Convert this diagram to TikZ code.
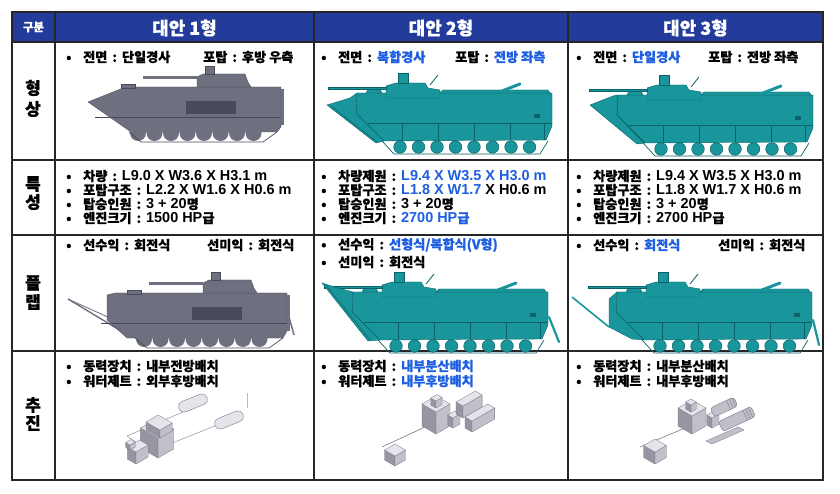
\documentclass[tikz,border=0pt]{standalone}
\usepackage{fontspec}
\setmainfont{Noto Sans CJK KR}[BoldFeatures={FakeBold=0.8}]
\newfontfamily\latf{Liberation Sans}
\usetikzlibrary{calc}
\definecolor{hdr}{RGB}{35,60,155}
\definecolor{bl}{RGB}{30,95,225}
\definecolor{gv}{RGB}{110,112,128}
\definecolor{gd}{RGB}{72,74,90}
\definecolor{ta}{RGB}{24,150,156}
\definecolor{td}{RGB}{10,98,104}
\definecolor{cT}{RGB}{228,228,234}
\definecolor{cL}{RGB}{150,150,162}
\definecolor{cR}{RGB}{192,192,202}
\definecolor{cE}{RGB}{120,120,132}
\newcommand\lat[1]{{\latf\fontsize{14.5}{15}\selectfont #1}}
\newcommand\sepc{\hspace{5pt}:\hspace{5pt}}
\newcommand\bt[1]{\textcolor{bl}{#1}}
\newcommand\bul{\makebox[17bp][l]{•}}
\newcommand\isocube[5]{%
  \filldraw[fill=cL, draw=cE, line width=0.3] (#1,#2) -- ++({-0.87*#3},{-0.5*#3}) -- ++(0,{-#5}) -- ++({0.87*#3},{0.5*#3}) -- cycle;
  \filldraw[fill=cR, draw=cE, line width=0.3] (#1,#2) -- ++({0.87*#4},{-0.5*#4}) -- ++(0,{-#5}) -- ++({-0.87*#4},{0.5*#4}) -- cycle;
  \filldraw[fill=cT, draw=cE, line width=0.3] (#1,{#2-#5}) -- ++({-0.87*#3},{-0.5*#3}) -- ++({0.87*#4},{-0.5*#4}) -- ++({0.87*#3},{0.5*#3}) -- cycle;
}
\newcommand\greyparts{%
  \foreach \i in {0,...,7} \fill[gv] (-143+16.5*\i,46) circle (8);
  \draw[gd, line width=0.7] (-152,45) -- (-140,55) -- (-18,55) -- (-4,45);
  \draw[gd, line width=0.6] (-186,30) -- (0,30);
  \fill[gd] (-95,14) rectangle (-45,27);
  \filldraw[fill=gv, draw=gd, line width=0.3] (-84,0) -- (-84,-10) -- (-78,-13) -- (-36,-13) -- (-33,-5) -- (-30,0) -- cycle;
  \filldraw[fill=gv, draw=gd, line width=0.3] (-76,-13) rectangle (-67,-21);
  \fill[gv] (-138,-10.5) rectangle (-84,-7.5);
  \filldraw[fill=gv, draw=gd, line width=0.3] (-160,1) rectangle (-146,-3);
  \fill[gv] (0,2) rectangle (3,38);
}
\newcommand\tealparts{%
  \draw[td, line width=0.7] (-170,48) -- (-158,61) -- (-12,61) -- (-4,48);
  \filldraw[fill=ta, draw=td, line width=0.4] (-195,0) -- (0,0) -- (0,33) -- (-6,47) -- (-168,48) -- (-196,20) -- cycle;
  \draw[td, line width=0.6] (-184,30) -- (0,30);
  \foreach \x in {-150,-114,-78,-42,-8} \draw[td, line width=0.5] (\x,30) -- (\x,47);
  \foreach \i in {0,...,7} \filldraw[fill=ta, draw=td, line width=0.5] (-152+\i*18.5,54) circle (6.3);
  \filldraw[fill=ta, draw=td, line width=0.4] (-112,0) -- (-109,-3) -- (-4,-3) -- (-2,0) -- cycle;
  \draw[ta, line width=3, line cap=round] (-50,-2) -- (-32,-9);
  \filldraw[fill=ta, draw=td, line width=0.4] (-186,0) -- (-184,-4) -- (-172,-4) -- (-170,0) -- cycle;
  \filldraw[fill=ta, draw=td, line width=0.4] (-166,5) -- (-166,-7) -- (-156,-10) -- (-127,-10) -- (-124,-5) -- (-112,-3) -- (-112,5) -- cycle;
  \filldraw[fill=ta, draw=td, line width=0.4] (-154,-10) rectangle (-144,-20);
  \draw[td, line width=0.8] (-122,-8) -- (-114,-18);
  \filldraw[fill=ta, draw=td, line width=0.3] (-224,-6) rectangle (-166,-3.6);
  \fill[td] (-18,21) rectangle (-12,25);
}
\tikzset{
  ct/.style={anchor=west, inner sep=0pt, font=\fontsize{13.2}{15}\selectfont\bfseries},
  lbl/.style={inner sep=0pt, font=\fontsize{17}{19}\selectfont\bfseries},
  hd/.style={inner sep=0pt, text=white, font=\fontsize{18}{20}\selectfont\bfseries},
  grid/.style={line width=1.5, draw=black!85},
}
\begin{document}
\begin{tikzpicture}[x=1bp,y=-1bp]
\useasboundingbox[fill=white] (0,0) rectangle (840,494);
% header
\fill[hdr] (12,12) rectangle (823,42);
% grid
\foreach \x in {55,314,568} \draw[grid] (\x,12) -- (\x,480);
\foreach \y in {42,160,235,351} \draw[grid] (12,\y) -- (823,\y);
\draw[line width=2, draw=black!85] (12,12) rectangle (823,480);
% header texts
\node[hd, font=\fontsize{11.5}{12}\selectfont\bfseries] (h0) at (33.5,27) {구분};
\node[hd] (h1) at (184.5,28) {대안 1형};
\node[hd] (h2) at (441,28) {대안 2형};
\node[hd] (h3) at (695.5,28) {대안 3형};
% left labels
\node[lbl] (l1a) at (33,88) {형};
\node[lbl] (l1b) at (33,109) {상};
\node[lbl] (l2a) at (33,184) {특};
\node[lbl] (l2b) at (33,202) {성};
\node[lbl] (l3a) at (33,283) {플};
\node[lbl] (l3b) at (33,302) {랩};
\node[lbl] (l4a) at (33,405) {추};
\node[lbl] (l4b) at (33,423) {진};
% row 1 texts
\node[ct] (t11a) at (66,57) {\bul 전면\sepc 단일경사};
\node[ct] (t11b) at (203,57) {포탑\sepc 후방 우측};
\node[ct] (t12a) at (321,57) {\bul 전면\sepc\bt{복합경사}};
\node[ct] (t12b) at (455,57) {포탑\sepc\bt{전방 좌측}};
\node[ct] (t13a) at (576,57) {\bul 전면\sepc\bt{단일경사}};
\node[ct] (t13b) at (708,57) {포탑\sepc 전방 좌측};
% row 2 texts
\node[ct] (t21a) at (66,176) {\bul 차량\sepc\lat{L9.0 X W3.6 X H3.1 m}};
\node[ct] (t21b) at (66,190) {\bul 포탑구조\sepc\lat{L2.2 X W1.6 X H0.6 m}};
\node[ct] (t21c) at (66,204) {\bul 탑승인원\sepc\lat{3 + 20}명};
\node[ct] (t21d) at (66,218) {\bul 엔진크기\sepc\lat{1500 HP}급};
\node[ct] (t22a) at (321,176) {\bul 차량제원\sepc\bt{\lat{L9.4 X W3.5 X H3.0 m}}};
\node[ct] (t22b) at (321,190) {\bul 포탑구조\sepc\bt{\lat{L1.8 X W1.7}}\lat{ X H0.6 m}};
\node[ct] (t22c) at (321,204) {\bul 탑승인원\sepc\lat{3 + 20}명};
\node[ct] (t22d) at (321,218) {\bul 엔진크기\sepc\bt{\lat{2700 HP}급}};
\node[ct] (t23a) at (576,176) {\bul 차량제원\sepc\lat{L9.4 X W3.5 X H3.0 m}};
\node[ct] (t23b) at (576,190) {\bul 포탑구조\sepc\lat{L1.8 X W1.7 X H0.6 m}};
\node[ct] (t23c) at (576,204) {\bul 탑승인원\sepc\lat{3 + 20}명};
\node[ct] (t23d) at (576,218) {\bul 엔진크기\sepc\lat{2700 HP}급};
% row 3 texts
\node[ct] (t31a) at (66,245) {\bul 선수익\sepc 회전식};
\node[ct] (t31b) at (207,245) {선미익\sepc 회전식};
\node[ct] (t32a) at (321,245) {\bul 선수익\sepc\bt{선형식/복합식(V형)}};
\node[ct] (t32b) at (321,262) {\bul 선미익\sepc 회전식};
\node[ct] (t33a) at (576,245) {\bul 선수익\sepc\bt{회전식}};
\node[ct] (t33b) at (718,245) {선미익\sepc 회전식};
% row 4 texts
\node[ct] (t41a) at (66,366) {\bul 동력장치\sepc 내부전방배치};
\node[ct] (t41b) at (66,381) {\bul 워터제트\sepc 외부후방배치};
\node[ct] (t42a) at (321,366) {\bul 동력장치\sepc\bt{내부분산배치}};
\node[ct] (t42b) at (321,381) {\bul 워터제트\sepc\bt{내부후방배치}};
\node[ct] (t43a) at (576,366) {\bul 동력장치\sepc 내부분산배치};
\node[ct] (t43b) at (576,381) {\bul 워터제트\sepc 내부후방배치};
% ===== vehicles row 1
\begin{scope}[shift={(281,87)}]
  \filldraw[fill=gv, draw=gd, line width=0.3] (-193,15) -- (-158,1) -- (-150,0) -- (0,0) -- (0,40) -- (-4,45) -- (-150,45) -- cycle;
  \greyparts
\end{scope}
\begin{scope}[shift={(552,93)}]
  \tealparts
  \filldraw[fill=ta, draw=td, line width=0.4] (-225,12) -- (-202,5) -- (-195,0) -- (-196,20) -- (-168,48) -- (-176,50) -- cycle;
  \draw[td, line width=0.5] (-221,13) -- (-175,49);
\end{scope}
\begin{scope}[shift={(813,95)}]
  \tealparts
  \filldraw[fill=ta, draw=td, line width=0.4] (-223,10) -- (-200,1) -- (-195,0) -- (-196,20) -- (-168,48) -- (-176,49) -- cycle;
  \draw[td, line width=0.5] (-196,3) -- (-196,20) -- (-170,47);
\end{scope}
% ===== vehicles row 3
\draw[gv, line width=1.4] (68,299) -- (126,334);
\draw[gv, line width=0.8] (68,299) -- (110,318);
\begin{scope}[shift={(287,293)}]
  \filldraw[fill=gv, draw=gd, line width=0.3] (-180,2) -- (-172,0) -- (0,0) -- (0,38) -- (-4,45) -- (-160,45) -- (-180,27) -- cycle;
  \greyparts
  \draw[gv, line width=1.5] (2,24) -- (7,42);
\end{scope}
\begin{scope}[shift={(548,292)}]
  \tealparts
  \filldraw[fill=ta, draw=td, line width=0.4] (-226,-9) -- (-210,-4) -- (-195,0) -- (-196,20) -- (-168,48) -- (-180,49) -- cycle;
  \draw[td, line width=0.5] (-222,-7) -- (-178,48);
  \draw[ta, line width=2.2, line cap=round] (1,25) -- (11,50);
\end{scope}
\begin{scope}[shift={(812,292)}]
  \tealparts
  \filldraw[fill=ta, draw=td, line width=0.4] (-203,7) -- (-195,0) -- (-196,20) -- (-168,48) -- (-180,47) -- (-203,35) -- cycle;
  \draw[ta, line width=1.6] (-240,5) -- (-203,35);
  \draw[ta, line width=2.2, line cap=round] (1,28) -- (7,53);
\end{scope}
% ===== propulsion col 1
\draw[cE!70, line width=0.6] (127,436) -- (183,412);
\draw[cE!70, line width=0.6] (150,452) -- (217,425);
\draw[cE!70, line width=0.6] (127,436) -- (150,452);
\draw[cE!50, line width=0.5] (247,393) -- (247,408);
\begin{scope}[shift={(193,403)}, rotate=22]
  \filldraw[fill=cT, draw=cE, line width=0.4, rounded corners=5] (-15,-5.5) rectangle (15,5.5);
\end{scope}
\begin{scope}[shift={(229,420)}, rotate=22]
  \filldraw[fill=cT, draw=cE, line width=0.4, rounded corners=5] (-15,-5.5) rectangle (15,5.5);
\end{scope}
\isocube{158}{458}{20}{18}{20}
\isocube{160}{438}{16}{14}{8}
\isocube{136}{464}{10}{14}{12}
\isocube{130}{450}{5}{6}{5}
% ===== propulsion col 2
\draw[cE, line width=0.6] (382,447) -- (440,420);
\isocube{395}{466}{12}{12}{10}
\isocube{436}{434}{16}{16}{22}
\isocube{436}{408}{6}{7}{7}
\isocube{453}{428}{6}{8}{10}
\isocube{463}{418}{8}{22}{12}
\isocube{472}{432}{8}{26}{11}
% ===== propulsion col 3
\draw[cE, line width=0.6] (640,447) -- (692,425);
\isocube{655}{464}{13}{13}{12}
\filldraw[fill=cR, draw=cE, line width=0.3] (706,441) -- (738,427) -- (744,430) -- (712,444) -- cycle;
\isocube{692}{434}{16}{16}{18}
\isocube{691}{412}{6}{6}{7}
\isocube{712}{428}{6}{8}{10}
\begin{scope}[shift={(724,407)}, rotate=25]
  \filldraw[fill=cR, draw=cE, line width=0.4, rounded corners=3] (-13,-5) rectangle (13,5);
  \foreach \x in {5,8,11} \draw[cE, line width=0.4] (\x,-5) -- (\x,5);
\end{scope}
\begin{scope}[shift={(737,419)}, rotate=25]
  \filldraw[fill=cR, draw=cE, line width=0.4, rounded corners=3] (-18,-5.5) rectangle (18,5.5);
  \foreach \x in {9,12,15} \draw[cE, line width=0.4] (\x,-5.5) -- (\x,5.5);
\end{scope}
\end{tikzpicture}
\end{document}
